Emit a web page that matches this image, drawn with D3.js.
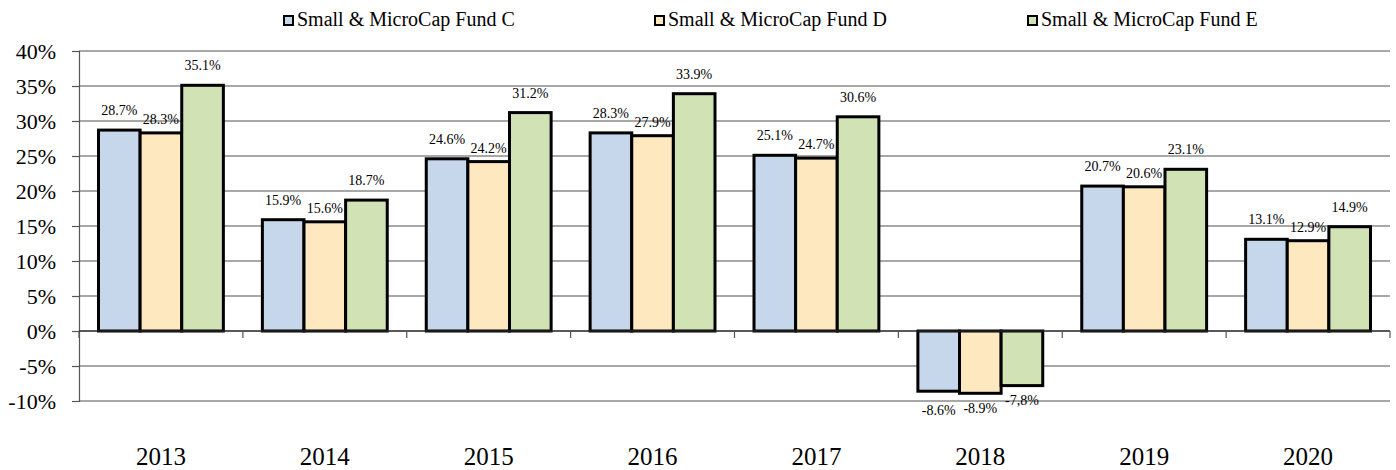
<!DOCTYPE html>
<html>
<head>
<meta charset="utf-8">
<script src="https://cdn.jsdelivr.net/npm/d3@7"></script>
<style>
  body { margin: 0; background: #fff; }
  svg text { font-family: "Liberation Serif", "Times New Roman", serif; fill: #000; }
</style>
</head>
<body>
<svg id="chart" width="1396" height="470"></svg>
<script>
// chart data
var years = ['2013', '2014', '2015', '2016', '2017', '2018', '2019', '2020'];
var seriesNames = ['Small & MicroCap Fund C', 'Small & MicroCap Fund D', 'Small & MicroCap Fund E'];
var fundC = [28.7, 15.9, 24.6, 28.3, 25.1, -8.6, 20.7, 13.1];
var fundD = [28.3, 15.6, 24.2, 27.9, 24.7, -8.9, 20.6, 12.9];
var fundE = [35.1, 18.7, 31.2, 33.9, 30.6, -7.8, 23.1, 14.9];
var labelsC = ['28.7%', '15.9%', '24.6%', '28.3%', '25.1%', '-8.6%', '20.7%', '13.1%'];
var labelsD = ['28.3%', '15.6%', '24.2%', '27.9%', '24.7%', '-8.9%', '20.6%', '12.9%'];
var labelsE = ['35.1%', '18.7%', '31.2%', '33.9%', '30.6%', '-7,8%', '23.1%', '14.9%'];
var yTicks = [-10, -5, 0, 5, 10, 15, 20, 25, 30, 35, 40];

var colors = ['#c6d6eb', '#fee8c0', '#d1e2b5'];
var labelUp = [15, 9, 15];
var labelDown = [24, 20, 19];
var serif = '"Liberation Serif", "Times New Roman", serif';

var svg = d3.select('#chart');
var plotLeft = 79, plotRight = 1390, plotTop = 51, plotBottom = 401;

var x0 = d3.scaleBand().domain(years).range([plotLeft, plotRight]).padding(0);
var bw = x0.bandwidth();
var gap = bw * 0.119;
var x1 = d3.scaleBand().domain([0, 1, 2]).range([gap, bw - gap]).padding(0);
var y = d3.scaleLinear().domain([-10, 40]).range([plotBottom, plotTop]);

// grid lines
svg.append('g').selectAll('line')
	.data(yTicks.filter(function(t){ return t != 0; }))
	.enter().append('line')
	.attr('x1', plotLeft).attr('x2', plotRight)
	.attr('y1', function(d){ return y(d); })
	.attr('y2', function(d){ return y(d); })
	.attr('stroke', '#a8a8a8')
	.attr('stroke-width', 2);

// y axis
var yAxis = svg.append('g')
	.attr('transform', 'translate(' + plotLeft + ',0)')
	.call(d3.axisLeft(y).tickValues(yTicks).tickSize(7).tickFormat(function(d){ return d + '%'; }));
yAxis.select('.domain').attr('stroke', '#555').attr('stroke-width', 1.2);
yAxis.selectAll('.tick line').attr('stroke', '#555').attr('stroke-width', 1.2);
yAxis.selectAll('.tick text')
	.attr('x', -23)
	.style('font-family', serif)
	.style('font-size', '22px')
	.attr('fill', '#000');

// bars
var series = [fundC, fundD, fundE];
var labels = [labelsC, labelsD, labelsE];
series.forEach(function(vals, si){
	var g = svg.append('g');
	g.selectAll('rect')
		.data(vals)
		.enter().append('rect')
		.attr('x', function(d, i){ return x0(years[i]) + x1(si); })
		.attr('width', x1.bandwidth())
		.attr('y', function(d){ return y(Math.max(0, d)); })
		.attr('height', function(d){ return Math.abs(y(d) - y(0)); })
		.attr('fill', colors[si])
		.attr('stroke', '#000')
		.attr('stroke-width', 3);
	g.selectAll('text')
		.data(vals)
		.enter().append('text')
		.attr('x', function(d, i){ return x0(years[i]) + x1(si) + x1.bandwidth() / 2; })
		.attr('y', function(d){ return d >= 0 ? y(d) - labelUp[si] : y(d) + labelDown[si]; })
		.attr('text-anchor', 'middle')
		.style('font-family', serif)
		.style('font-size', '14px')
		.text(function(d, i){ return labels[si][i]; });
});

// category axis on zero line
var xAxis = svg.append('g')
	.attr('transform', 'translate(0,' + y(0) + ')');
xAxis.append('line')
	.attr('x1', plotLeft).attr('x2', plotRight)
	.attr('stroke', '#222').attr('stroke-width', 1.5);
xAxis.selectAll('.tk')
	.data(years.concat(['end']))
	.enter().append('line')
	.attr('class', 'tk')
	.attr('x1', function(d, i){ return plotLeft + i * bw; })
	.attr('x2', function(d, i){ return plotLeft + i * bw; })
	.attr('y1', 0).attr('y2', 7)
	.attr('stroke', '#555').attr('stroke-width', 1.2);

svg.append('g').selectAll('text')
	.data(years)
	.enter().append('text')
	.attr('x', function(d){ return x0(d) + bw / 2; })
	.attr('y', 465)
	.attr('text-anchor', 'middle')
	.style('font-family', serif)
	.style('font-size', '25px')
	.text(function(d){ return d; });

// legend
var legendX = [283, 654, 1027];
var legend = svg.append('g').selectAll('g')
	.data(seriesNames)
	.enter().append('g')
	.attr('transform', function(d, i){ return 'translate(' + legendX[i] + ',0)'; });
legend.append('rect')
	.attr('x', 1).attr('y', 16)
	.attr('width', 9).attr('height', 9)
	.attr('fill', function(d, i){ return colors[i]; })
	.attr('stroke', '#000')
	.attr('stroke-width', 2);
legend.append('text')
	.attr('x', 14)
	.attr('y', 26)
	.style('font-family', serif)
	.style('font-size', '20px')
	.text(function(d){ return d; });
</script>
</body>
</html>
